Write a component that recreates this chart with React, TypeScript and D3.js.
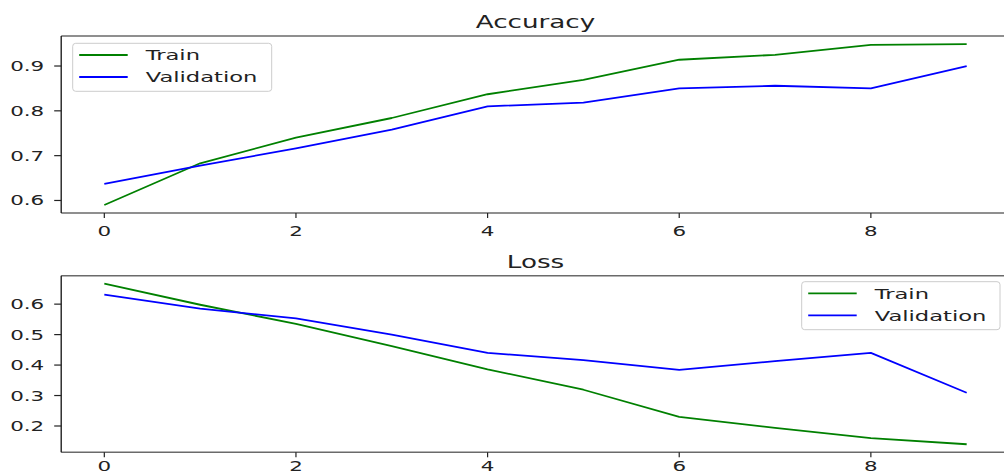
import React from "react";
import * as d3 from "d3";

const epochs = [0, 1, 2, 3, 4, 5, 6, 7, 8, 9];
const accTrain = [0.590, 0.683, 0.740, 0.784, 0.837, 0.869, 0.914, 0.925, 0.947, 0.949];
const accVal = [0.637, 0.678, 0.716, 0.758, 0.810, 0.8185, 0.850, 0.856, 0.850, 0.8996];
const lossTrain = [0.667, 0.598, 0.535, 0.462, 0.386, 0.319, 0.230, 0.194, 0.160, 0.140];
const lossVal = [0.631, 0.585, 0.553, 0.500, 0.440, 0.416, 0.384, 0.413, 0.440, 0.309];
const xTicks = [0, 2, 4, 6, 8];
const accYTicks = [0.6, 0.7, 0.8, 0.9];
const lossYTicks = [0.2, 0.3, 0.4, 0.5, 0.6];
const seriesNames = ["Train", "Validation"];
const seriesColors = ["#008000", "#0000ff"];

const W = 1004;
const H = 475;
const SX = 1.54;
const FONT = "DejaVu Sans";

function SText({ x, y, size, anchor, children, fill = "#222" }: any) {
  return (
    <text
      transform={`translate(${x},${y}) scale(${SX},1)`}
      fontFamily={FONT}
      fontSize={size}
      textAnchor={anchor}
      fill={fill}
    >
      {children}
    </text>
  );
}

function Panel({ top, bottom, title, train, val, yTicks, legendPos, xLabelOffset }: any) {
  const left = 61.2;
  const right = 1009.8;
  const x = d3.scaleLinear().domain([-0.45, 9.45]).range([left, right]);
  const all = [...train, ...val];
  const [mn, mx] = d3.extent(all) as [number, number];
  const pad = (mx - mn) * 0.05;
  const y = d3.scaleLinear().domain([mn - pad, mx + pad]).range([bottom, top]);
  const line = d3
    .line<number>()
    .x((_, i) => x(epochs[i]))
    .y((d) => y(d));
  const series = [train, val];
  const hSpine = "#6a6a6a";
  return (
    <g>
      {series.map((s: number[], i: number) => (
        <path key={i} d={line(s) || ""} fill="none" stroke={seriesColors[i]} strokeWidth={1.8} strokeLinejoin="round" />
      ))}
      <line x1={left} x2={right} y1={top} y2={top} stroke={hSpine} strokeWidth={1.5} />
      <line x1={left} x2={right} y1={bottom} y2={bottom} stroke={hSpine} strokeWidth={1.5} />
      <line x1={left} x2={left} y1={top} y2={bottom} stroke="#111" strokeWidth={1.3} />
      <line x1={right} x2={right} y1={top} y2={bottom} stroke="#111" strokeWidth={1.3} />
      {xTicks.map((t) => (
        <g key={"x" + t}>
          <line x1={x(t)} x2={x(t)} y1={bottom} y2={bottom + 5} stroke="#222" strokeWidth={1.2} />
          <SText x={x(t)} y={bottom + xLabelOffset} size={13.9} anchor="middle">
            {String(t)}
          </SText>
        </g>
      ))}
      {yTicks.map((t: number) => (
        <g key={"y" + t}>
          <line x1={left - 7} x2={left} y1={y(t)} y2={y(t)} stroke="#222" strokeWidth={1.2} />
          <SText x={left - 17} y={y(t) + 5} size={13.9} anchor="end">
            {t.toFixed(1)}
          </SText>
        </g>
      ))}
      <SText x={(left + right) / 2} y={top - 8} size={17} anchor="middle">
        {title}
      </SText>
      <g transform={`translate(${legendPos[0]},${legendPos[1]})`}>
        <rect x={0} y={0} width={legendPos[2]} height={48} rx={3} fill="white" fillOpacity={0.8} stroke="#ccc" strokeWidth={1} />
        {seriesNames.map((n, i) => (
          <g key={n}>
            <line x1={6.5} x2={55} y1={11.7 + i * 22} y2={11.7 + i * 22} stroke={seriesColors[i]} strokeWidth={1.8} />
            <SText x={73} y={17 + i * 22} size={14.7} anchor="start">
              {n}
            </SText>
          </g>
        ))}
      </g>
    </g>
  );
}

export default function App() {
  return (
    <svg width={W} height={H} style={{ position: "absolute", left: 0, top: 0, background: "white" }}>
      <rect x={0} y={0} width={W} height={H} fill="white" />
      <Panel top={36} bottom={213} title="Accuracy" train={accTrain} val={accVal} yTicks={accYTicks} legendPos={[72.7, 43.3, 199]} xLabelOffset={22.5} />
      <Panel top={275.7} bottom={452.3} title="Loss" train={lossTrain} val={lossVal} yTicks={lossYTicks} legendPos={[801.7, 281.7, 198.3]} xLabelOffset={18.5} />
    </svg>
  );
}
